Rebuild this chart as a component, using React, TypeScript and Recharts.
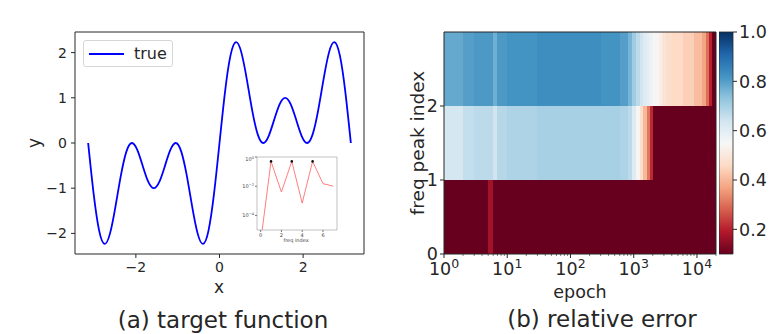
import { ComposedChart, LineChart, Line, XAxis, YAxis, ReferenceArea } from "recharts"

const FONT = "'DejaVu Sans', Verdana, sans-serif"
const INK = "#262626"

// (a) target function
const X_VALUES = [
  -3.1416, -3.0107, -2.8798, -2.7489, -2.618, -2.4871, -2.3562, -2.2253, -2.0944, -1.9635,
  -1.8326, -1.7017, -1.5708, -1.4399, -1.309, -1.1781, -1.0472, -0.9163, -0.7854, -0.6545,
  -0.5236, -0.3927, -0.2618, -0.1309, 0, 0.1309, 0.2618, 0.3927, 0.5236, 0.6545,
  0.7854, 0.9163, 1.0472, 1.1781, 1.309, 1.4399, 1.5708, 1.7017, 1.8326, 1.9635,
  2.0944, 2.2253, 2.3562, 2.4871, 2.618, 2.7489, 2.8798, 3.0107, 3.1416,
]
const Y_VALUES = [
  0, -1.122, -1.932, -2.231, -2.0, -1.402, -0.707, -0.185, 0, -0.159,
  -0.518, -0.861, -1.0, -0.861, -0.518, -0.159, 0, -0.185, -0.707, -1.402,
  -2.0, -2.231, -1.932, -1.122, 0, 1.122, 1.932, 2.231, 2.0, 1.402,
  0.707, 0.185, 0, 0.159, 0.518, 0.861, 1.0, 0.861, 0.518, 0.159,
  0, 0.185, 0.707, 1.402, 2.0, 2.231, 1.932, 1.122, 0,
]
const X_TICKS = [-2, 0, 2]
const Y_TICKS = [-2, -1, 0, 1, 2]

// inset: spectrum of the target
const FREQ_INDEX = [0, 1, 2, 3, 4, 5, 6, 7]
const FREQ_AMP = [1.5e-6, 0.5, 4e-3, 0.5, 7e-4, 0.5, 1.5e-2, 1e-2]
const FREQ_PEAKS = [1, 3, 5]
const INSET_X_TICKS = [0, 2, 4, 6]
const INSET_Y_TICKS = [1e-5, 1e-4, 1e-3, 1e-2, 1e-1, 1]

// (b) relative error per frequency peak, columns between epoch edges
const EPOCH_EDGES = [
  1, 2, 3, 5, 6, 7, 10, 30, 100, 300, 600, 800, 950, 1100, 1250, 1400,
  1600, 1800, 2000, 2200, 2500, 2800, 3200, 4000, 6000, 9000, 12000, 14000, 15500, 17000, 20000,
]
const ERR_PEAK0 = [
  0.06, 0.06, 0.07, 0.17, 0.06, 0.06, 0.06, 0.06, 0.06, 0.06, 0.06, 0.06, 0.06, 0.06, 0.06,
  0.06, 0.06, 0.06, 0.06, 0.06, 0.06, 0.06, 0.06, 0.06, 0.06, 0.06, 0.06, 0.06, 0.06, 0.06,
]
const ERR_PEAK1 = [
  0.63, 0.66, 0.67, 0.67, 0.64, 0.68, 0.69, 0.7, 0.7, 0.7, 0.69, 0.67, 0.61, 0.54, 0.47,
  0.4, 0.31, 0.21, 0.08, 0.06, 0.06, 0.06, 0.06, 0.06, 0.06, 0.06, 0.06, 0.06, 0.06, 0.06,
]
const ERR_PEAK2 = [
  0.78, 0.8, 0.81, 0.81, 0.77, 0.81, 0.82, 0.83, 0.83, 0.82, 0.8, 0.76, 0.71, 0.67, 0.64,
  0.61, 0.59, 0.57, 0.555, 0.54, 0.52, 0.49, 0.47, 0.46, 0.44, 0.41, 0.37, 0.3, 0.2, 0.08,
]
const EPOCH_TICKS = [
  1, 2, 3, 4, 5, 6, 7, 8, 9, 10, 20, 30, 40, 50, 60, 70, 80, 90, 100, 200, 300, 400, 500,
  600, 700, 800, 900, 1000, 2000, 3000, 4000, 5000, 6000, 7000, 8000, 9000, 10000, 20000,
]
const PEAK_TICKS = [0, 1, 2]
const CBAR_TICKS = [0.2, 0.4, 0.6, 0.8, 1.0]

const RDBU = [
  "#67001f", "#b2182b", "#d6604d", "#f4a582", "#fddbc7", "#f7f7f7",
  "#d1e5f0", "#92c5de", "#4393c3", "#2166ac", "#053061",
]
const VMIN = 0.1
const VMAX = 1.0

function hexRgb(h: string) {
  return [1, 3, 5].map((i) => parseInt(h.slice(i, i + 2), 16))
}

function cmap(v: number): string {
  const t = Math.min(1, Math.max(0, (v - VMIN) / (VMAX - VMIN))) * 10
  const i = Math.min(9, Math.floor(t))
  const f = t - i
  const a = hexRgb(RDBU[i])
  const b = hexRgb(RDBU[i + 1])
  const c = a.map((x, k) => Math.round(x + (b[k] - x) * f))
  return `rgb(${c[0]},${c[1]},${c[2]})`
}

const minus = (v: number) => String(v).replace("-", "\u2212")

const curveData = X_VALUES.map((x, i) => ({ x, y: Y_VALUES[i] }))
const insetData = FREQ_INDEX.map((f, i) => ({ f, amp: FREQ_AMP[i], peak: FREQ_PEAKS.includes(f) }))
const errRows = [ERR_PEAK0, ERR_PEAK1, ERR_PEAK2]

function EpochTick(props: any) {
  const { x, y, payload } = props
  const lg = Math.log10(payload.value)
  const exp = Math.round(lg)
  const major = Math.abs(lg - exp) < 1e-6
  return (
    <g>
      <line x1={x} x2={x} y1={y} y2={y + (major ? 4 : 2)} stroke={INK} strokeWidth={major ? 1 : 0.6} />
      {major && (
        <text x={x} y={y + 21} textAnchor="middle" fontSize={17.5} fill={INK} fontFamily={FONT}>
          10<tspan dy={-7} fontSize={12.5}>{exp}</tspan>
        </text>
      )}
    </g>
  )
}

function PowTick(props: any) {
  const { x, y, payload } = props
  const e = Math.round(Math.log10(payload.value))
  return (
    <text x={x} y={y + 2} textAnchor="end" fontSize={5} fill="#444" fontFamily={FONT}>
      10<tspan dy={-2} fontSize={3.6}>{e === 0 ? "0" : `\u2212${-e}`}</tspan>
    </text>
  )
}

function PeakDot(props: any) {
  const { cx, cy, payload, index } = props
  if (!payload.peak) return <g key={index} />
  return <circle key={index} cx={cx} cy={cy} r={1.3} fill="#111" />
}

export default function App() {
  const txt = { fontFamily: FONT, fill: INK }
  return (
    <div style={{ position: "absolute", left: 0, top: 0, width: 784, height: 334, background: "#fff" }}>
      {/* (a) target function */}
      <div style={{ position: "absolute", left: 0, top: 0 }}>
        <LineChart width={390} height={300} data={curveData} margin={{ top: 32, right: 26, left: 0, bottom: 0 }}>
          <XAxis
            dataKey="x" type="number" domain={[-3.456, 3.456]} allowDataOverflow ticks={X_TICKS}
            tickFormatter={minus} height={46} tickSize={4} tickMargin={4} axisLine={false}
            tickLine={{ stroke: INK }} tick={{ fontSize: 14, fill: INK, fontFamily: FONT }}
          />
          <YAxis
            type="number" domain={[-2.456, 2.456]} allowDataOverflow ticks={Y_TICKS}
            tickFormatter={minus} width={75} tickSize={4} tickMargin={4} axisLine={false}
            tickLine={{ stroke: INK }} tick={{ fontSize: 14, fill: INK, fontFamily: FONT }}
          />
          <ReferenceArea x1={-3.456} x2={3.456} y1={-2.456} y2={2.456} fill="none" stroke={INK} strokeWidth={1} ifOverflow="visible" />
          <Line dataKey="y" type="natural" stroke="#0000ff" strokeWidth={1.8} dot={false} isAnimationActive={false} />
        </LineChart>
      </div>

      {/* legend */}
      <div
        style={{
          position: "absolute", left: 83, top: 40, width: 90, height: 27, boxSizing: "border-box",
          border: "1px solid #d6d6d6", borderRadius: 3, background: "rgba(255,255,255,0.85)",
          display: "flex", alignItems: "center", fontFamily: FONT, fontSize: 16, color: INK,
        }}
      >
        <span style={{ display: "inline-block", width: 35, height: 2, background: "#0000ff", marginLeft: 5 }} />
        <span style={{ marginLeft: 10 }}>true</span>
      </div>

      {/* inset spectrum */}
      <div style={{ position: "absolute", left: 227, top: 150, width: 115, height: 96, background: "#fff" }}>
        <LineChart width={115} height={96} data={insetData} margin={{ top: 7, right: 5, left: 0, bottom: 0 }}>
          <XAxis
            dataKey="f" type="number" domain={[-0.35, 7.35]} allowDataOverflow ticks={INSET_X_TICKS}
            height={16} tickSize={2} tickMargin={1} axisLine={false} tickLine={{ stroke: "#777" }}
            tick={{ fontSize: 5, fill: "#444", fontFamily: FONT }}
          />
          <YAxis
            type="number" scale="log" domain={[1e-5, 1]} allowDataOverflow ticks={INSET_Y_TICKS}
            width={30} tickSize={2} tickMargin={1} axisLine={false} tickLine={{ stroke: "#777" }}
            tick={<PowTick />}
          />
          <ReferenceArea x1={-0.35} x2={7.35} y1={1e-5} y2={1} fill="none" stroke="#999" strokeWidth={0.6} ifOverflow="visible" />
          <Line dataKey="amp" type="linear" stroke="#ff6f6f" strokeWidth={0.9} dot={<PeakDot />} isAnimationActive={false} />
        </LineChart>
      </div>

      {/* (b) relative error heatmap */}
      <div style={{ position: "absolute", left: 390, top: 0 }}>
        <ComposedChart width={394} height={300} data={[{ epoch: 1 }, { epoch: 20000 }]} margin={{ top: 32, right: 68, left: 0, bottom: 0 }}>
          <XAxis
            dataKey="epoch" type="number" scale="log" domain={[1, 20000]} allowDataOverflow
            ticks={EPOCH_TICKS} interval={0} height={46} tickSize={0} tickMargin={0}
            axisLine={false} tickLine={false} tick={<EpochTick />}
          />
          <YAxis
            type="number" domain={[0, 3]} allowDataOverflow ticks={PEAK_TICKS} width={54}
            tickSize={4} tickMargin={2} axisLine={false} tickLine={{ stroke: INK }}
            tick={{ fontSize: 17.5, fill: INK, fontFamily: FONT }}
          />
          {errRows.map((row, r) =>
            row.map((v, i) => (
              <ReferenceArea
                key={`${r}-${i}`} x1={EPOCH_EDGES[i]} x2={EPOCH_EDGES[i + 1]} y1={r} y2={r + 1}
                fill={cmap(v)} fillOpacity={1} stroke="none" shapeRendering="crispEdges" ifOverflow="visible"
              />
            )),
          )}
          <ReferenceArea x1={1} x2={20000} y1={0} y2={3} fill="none" stroke={INK} strokeWidth={1} ifOverflow="visible" />
        </ComposedChart>
      </div>

      {/* colorbar */}
      <div style={{ position: "absolute", left: 719, top: 0 }}>
        <ComposedChart width={65} height={300} data={[{ c: 0 }, { c: 1 }]} margin={{ top: 32, right: 0, left: 0, bottom: 46 }}>
          <defs>
            <linearGradient id="rdbu" x1="0" y1="1" x2="0" y2="0">
              {RDBU.map((c, i) => (
                <stop key={c} offset={`${i * 10}%`} stopColor={c} />
              ))}
            </linearGradient>
          </defs>
          <XAxis hide dataKey="c" type="number" domain={[0, 1]} />
          <YAxis
            orientation="right" type="number" domain={[VMIN, VMAX]} allowDataOverflow ticks={CBAR_TICKS} width={51}
            tickFormatter={(v: number) => v.toFixed(1)} tickSize={4} tickMargin={2} axisLine={false}
            tickLine={{ stroke: INK }} tick={{ fontSize: 17.5, fill: INK, fontFamily: FONT }}
          />
          <ReferenceArea x1={0} x2={1} y1={VMIN} y2={VMAX} fill="url(#rdbu)" fillOpacity={1} stroke={INK} strokeWidth={0.8} ifOverflow="visible" />
        </ComposedChart>
      </div>

      {/* axis labels and captions */}
      <svg width={784} height={334} style={{ position: "absolute", left: 0, top: 0, pointerEvents: "none" }}>
        <text x={34} y={143} transform="rotate(-90 34 143)" textAnchor="middle" dominantBaseline="central" fontSize={17} {...txt}>y</text>
        <text x={219} y={287} textAnchor="middle" dominantBaseline="central" fontSize={17} {...txt}>x</text>
        <text x={296} y={240} textAnchor="middle" dominantBaseline="central" fontSize={5} fontFamily={FONT} fill="#444">freq index</text>
        <text x={417} y={143} transform="rotate(-90 417 143)" textAnchor="middle" dominantBaseline="central" fontSize={18.5} {...txt}>freq peak index</text>
        <text x={580} y={292} textAnchor="middle" dominantBaseline="central" fontSize={17.5} {...txt}>epoch</text>
        <text x={223} y={320} textAnchor="middle" dominantBaseline="central" fontSize={23} {...txt}>(a) target function</text>
        <text x={602} y={319} textAnchor="middle" dominantBaseline="central" fontSize={23} {...txt}>(b) relative error</text>
      </svg>
    </div>
  )
}
